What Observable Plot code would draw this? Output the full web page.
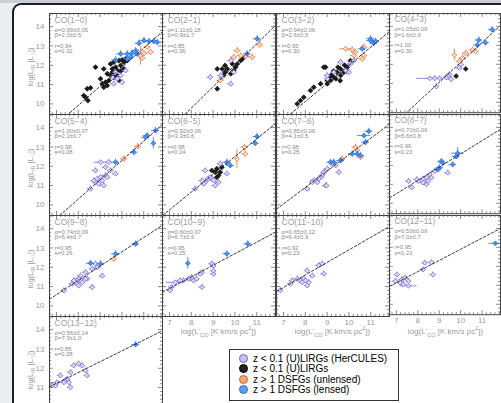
<!DOCTYPE html>
<html><head><meta charset="utf-8">
<script src="https://cdn.jsdelivr.net/npm/d3@7"></script>
<script src="https://cdn.jsdelivr.net/npm/@observablehq/plot@0.6"></script>
<style>
html,body{margin:0;padding:0;width:501px;height:403px;overflow:hidden;background:#e9eef3;font-family:"Liberation Sans",Arial,sans-serif}
#topbar{position:absolute;left:0;top:0;width:501px;height:3px;background:#c7ced6}
#win{position:absolute;left:12px;top:3px;width:540px;height:460px;background:#fff;border-left:2px solid #1e1e1e;border-top:2px solid #1e1e1e;border-radius:9px 0 0 0}
.pl{position:absolute}
.ytitle{position:absolute;font-size:7.5px;color:#9a9a9a;white-space:nowrap;transform:translate(-50%,-50%) rotate(-90deg);}
.xtitle{position:absolute;font-size:8px;color:#9a9a9a;white-space:nowrap;transform:translateX(-50%);}
sub,sup{font-size:70%;line-height:0}
#legend{position:absolute;left:229px;top:349px;width:168px;height:50px;border:1px solid #333;background:#fff;font-size:10px;color:#000}
#legend .row{position:absolute;left:9px;height:10px;line-height:10px;white-space:nowrap}
#legend .mk{display:inline-block;width:7px;height:7px;border-radius:50%;border:1px solid;vertical-align:-1px;margin-right:5px}
</style></head>
<body>
<div id="topbar"></div>
<div id="win"></div>
<div id="stage"></div>
<script>
// ---- data ----
const transitions = ["CO(1−0)","CO(2−1)","CO(3−2)","CO(4−3)","CO(5−4)","CO(6−5)","CO(7−6)","CO(8−7)","CO(9−8)","CO(10−9)","CO(11−10)","CO(12−11)","CO(13−12)"];
const alpha    = [0.99,1.11,0.94,1.05,1.00,0.92,0.85,0.70,0.74,0.60,0.65,0.59,0.56];
const alphaErr = ["0.05","0.18","0.06","0.09","0.07","0.06","0.06","0.09","0.09","0.07","0.12","0.09","0.14"];
const beta     = [2.0,0.9,2.6,1.6,2.3,3.3,4.1,5.6,5.4,6.7,6.4,7.0,7.3];
const betaErr  = ["0.5","1.7","0.5","0.9","0.7","0.6","0.5","0.8","0.7","0.6","0.9","0.7","1.0"];
const rCoef    = ["0.94","0.85","0.95","1.00","0.98","0.98","0.98","0.96","0.95","0.95","0.92","0.95","0.85"];
const sScatter = ["0.32","0.36","0.30","0.30","0.28","0.24","0.25","0.23","0.26","0.25","0.23","0.23","0.28"];
const xTickLabels = [7,8,9,10,11];
const yTickLabels = [10,11,12,13,14];
const legendLabels = ["z < 0.1 (U)LIRGs (HerCULES)","z < 0.1 (U)LIRGs","z > 1 DSFGs (unlensed)","z > 1 DSFGs (lensed)"];
// points: [logL'CO, logLIR, group, xErr?, yErr?]  H=HerCULES U=(U)LIRGs N=unlensed L=lensed
const co10 = [[8.79,11.90,"U"],[9.17,11.81,"U"],[9.48,12.07,"U"],[9.63,12.16,"U"],[9.86,12.24,"U"],[10.01,12.28,"U"],[10.09,12.16,"U"],[10.17,12.33,"U"],[9.94,11.99,"U"],[9.71,11.90,"U"],[9.56,11.81,"U"],[9.79,11.73,"U"],[9.94,11.69,"U"],[10.09,11.81,"U"],[9.33,11.56,"U"],[9.48,11.47,"U"],[9.63,11.38,"U"],[9.40,11.21,"U"],[9.25,11.12,"U"],[9.10,11.04,"U"],[9.17,10.86,"U"],[9.33,10.95,"U"],[9.02,11.30,"U"],[9.56,11.64,"U"],[9.79,11.47,"U"],[9.86,11.21,"U"],[8.41,10.78,"U"],[8.56,10.83,"U"],[8.25,10.43,"U"],[8.33,10.34,"U"],[8.44,10.17,"U"],[10.24,12.24,"U"],
 [9.56,11.38,"H"],[9.79,11.30,"H"],[9.63,11.04,"H"],[10.01,11.12,"H"],[9.71,11.64,"H"],[9.94,11.47,"H"],[10.17,11.73,"H"],
 [10.78,13.14,"L"],[11.01,13.28,"L"],[11.24,13.24,"L"],[11.46,13.24,"L"],[11.62,13.19,"L"],[9.94,12.59,"L"],[10.24,12.59,"L"],[10.47,12.62,"L"],[10.63,12.76,"L"],[10.70,12.59,"L"],[10.40,12.42,"L"],[9.71,12.28,"L"],[10.24,12.33,"L"],
 [10.85,12.50,"N",0.1,0.5],[11.01,12.62,"N"],[11.31,12.68,"N"],[11.16,12.94,"N"],[10.93,12.37,"N"]];
const co21 = [[11.02,13.37,"L"],[10.56,12.59,"L"],
 [11.14,13.06,"N"],[10.11,12.76,"N"],[10.26,12.50,"N"],[10.49,12.45,"N"],[10.79,12.42,"N"],[9.95,12.42,"N"],[9.33,11.21,"N"],
 [10.26,12.24,"U"],[10.11,12.07,"U"],[9.88,12.07,"U"],[10.03,11.90,"U"],[9.65,11.81,"U"],[9.42,11.81,"U"],[9.19,11.81,"U"],[9.55,11.64,"U"],[9.81,11.56,"U"],[9.95,11.73,"U"],[9.48,11.47,"U"],[9.19,10.78,"U"],[10.34,12.33,"U"],[9.55,11.99,"U"],
 [9.81,12.24,"H"],[8.87,11.38,"H"],[9.81,11.04,"H"],[9.95,11.64,"H"],[9.42,11.38,"H"],[9.35,11.47,"H"]];
const co32 = [[10.99,13.28,"L"],[11.13,13.14,"L"],[10.99,13.37,"L"],[11.22,13.24,"L"],[10.61,12.85,"L"],
 [9.85,12.85,"N",0.3,0.1],[10.15,12.80,"N"],[10.30,12.68,"N"],[10.69,12.94,"N"],[10.69,12.50,"N"],[10.61,12.33,"N"],[10.23,12.50,"N"],
 [10.07,12.24,"U"],[8.93,11.90,"U"],[9.46,11.64,"U"],[9.62,11.81,"U"],[9.92,11.90,"U"],[9.31,11.38,"U"],[9.16,11.21,"U"],[9.01,11.04,"U"],[9.62,11.47,"U"],[9.77,11.64,"U"],[8.39,10.86,"U"],[8.24,10.69,"U"],[7.93,10.34,"U"],[7.78,10.17,"U"],[7.63,10.00,"U"],[8.85,11.90,"U"],[8.70,11.04,"U"],[9.01,11.21,"U"],[9.20,11.50,"U"],[9.40,11.30,"U"],[9.50,11.90,"U"],[9.80,12.00,"U"],[9.90,11.70,"U"],[9.30,11.70,"U"],[9.60,11.20,"U"],[9.10,11.40,"U"],
 [9.62,12.16,"H"],[10.23,12.24,"H"],[9.85,11.73,"H"],[10.00,11.64,"H"],[9.31,11.64,"H"],[9.01,11.30,"H"],[10.07,12.07,"H"],[9.01,11.47,"H"]];
const co43 = [[11.47,13.83,"L"],[10.85,13.28,"L"],[11.16,13.14,"L"],[10.78,13.02,"L"],
 [10.24,12.59,"N"],[10.55,12.76,"N"],[10.70,12.68,"N"],[10.09,12.33,"N"],[9.71,12.50,"N",0.05,0.3],[9.94,12.16,"N"],
 [10.24,11.76,"U"],[9.79,11.38,"U"],
 [9.94,11.81,"H"],[10.02,11.99,"H"],[9.48,11.47,"H"],[9.40,11.38,"H"],[9.33,11.30,"H"],[9.02,11.26,"H"],[8.79,11.26,"H"],[8.56,11.26,"H",0.6,0.05],[8.87,10.83,"H"],[9.56,11.21,"H"]];
const co54 = [[11.54,13.85,"L"],[11.16,13.59,"L"],[11.08,13.50,"L"],[11.44,13.19,"L",0.05,0.3],[10.55,12.73,"L"],[9.71,12.21,"L"],
 [10.73,13.02,"N"],[10.09,12.38,"N"],
 [9.02,12.21,"H",0.3,0.05],[9.40,12.21,"H"],[8.79,11.78,"H"],[9.25,11.95,"H"],[9.71,11.61,"H"],[9.48,11.78,"H"],[9.25,11.52,"H"],[9.02,11.43,"H"],[8.87,11.35,"H"],[8.79,11.17,"H"],[9.10,11.26,"H"],[9.17,11.00,"H"],[8.94,11.09,"H"],[8.56,10.83,"H"],[8.71,11.26,"H"],[9.33,11.43,"H"]];
const co65 = [[11.01,13.54,"L"],[10.93,13.19,"L"],[9.63,12.21,"L"],[9.79,12.04,"L"],
 [10.44,12.99,"N"],[10.47,12.64,"N"],[10.09,12.38,"N",0.05,0.5],
 [8.94,11.78,"U"],[9.10,11.69,"U"],[9.17,11.87,"U"],[9.25,11.52,"U"],[9.33,11.69,"U"],[9.40,11.95,"U"],[9.17,11.43,"U"],
 [9.33,12.13,"H"],[8.64,11.78,"H"],[9.63,11.61,"H"],[8.78,11.35,"H"],[8.64,11.17,"H"],[8.49,11.26,"H"],[8.94,11.35,"H"],[8.57,11.09,"H"],[9.02,11.26,"H"],[9.10,11.00,"H"],[8.18,10.83,"H"],[8.87,11.43,"H"],[9.25,11.17,"H"]];
const co76 = [[10.91,13.81,"L"],[10.69,13.59,"L",0.3,0.1],[10.76,13.24,"L"],[10.38,12.64,"L"],[10.53,12.56,"L"],[9.31,12.21,"L"],[9.16,12.21,"L"],[9.62,12.30,"L"],[10.15,12.64,"L"],
 [10.30,12.99,"N"],[10.38,12.82,"N"],[10.53,12.47,"N"],[9.69,12.38,"N"],
 [9.54,11.69,"H"],[9.24,12.13,"H"],[8.93,11.00,"H"],[8.78,11.52,"H"],[9.01,11.87,"H"],[9.39,12.04,"H"],[8.09,10.83,"H"],[8.39,11.26,"H"],[8.55,11.17,"H"],[8.70,11.43,"H"],[8.85,11.69,"H"],[8.32,11.17,"H"],[8.62,11.35,"H"],[8.97,11.00,"H"]];
const co87 = [[9.86,12.64,"L",0.3,0.3],[9.79,12.47,"L"],[9.63,12.04,"L"],[9.10,12.21,"L"],[9.17,12.13,"L"],[9.02,11.87,"L"],[8.94,11.78,"L"],
 [9.40,11.61,"H"],[8.56,11.52,"H"],[8.41,11.35,"H"],[8.25,11.29,"H"],[7.57,11.17,"H"],[8.02,11.17,"H"],[7.72,10.83,"H"],[7.95,11.26,"H"],[8.41,11.00,"H"],[8.64,11.35,"H"],[8.79,11.69,"H"],[8.48,11.17,"H"],[8.25,11.09,"H"]];
const co98 = [[10.63,13.21,"L"],[9.71,12.70,"L"],[9.02,12.18,"L"],[8.56,12.21,"L",0.2,0.15],
 [9.63,12.44,"N"],
 [8.79,12.18,"H"],[8.87,12.00,"H"],[8.33,11.74,"H"],[8.10,11.56,"H"],[8.02,11.40,"H"],[7.95,11.31,"H"],[7.87,11.22,"H"],[7.72,11.14,"H"],[8.18,11.22,"H"],[8.41,11.40,"H"],[8.33,11.40,"H"],[8.02,11.05,"H"],[8.64,10.97,"H"],[9.10,11.56,"H"],[7.34,10.80,"H"],[7.80,11.31,"H"],[8.64,11.91,"H"]];
const co109 = [[10.59,13.21,"L"],[9.63,12.70,"L"],[7.84,12.21,"L",0.05,0.3],
 [8.94,12.18,"H"],[9.02,12.08,"H"],[9.02,11.66,"H"],[8.49,11.74,"H"],[8.41,11.66,"H"],[8.02,11.48,"H"],[7.87,11.40,"H"],[8.10,11.31,"H"],[7.64,11.31,"H"],[7.49,11.31,"H"],[7.26,11.22,"H",0.4,0.05],[7.10,10.97,"H"],[7.03,10.80,"H"],[8.49,10.97,"H"],[9.02,11.82,"H"],[8.25,11.40,"H"]];
const co1110 = [[8.78,12.18,"H"],[8.62,12.10,"H"],[8.85,11.66,"H"],[8.09,11.83,"H"],[7.93,11.40,"H"],[7.78,11.31,"H"],[7.86,11.22,"H"],[7.63,11.40,"H"],[7.40,11.31,"H"],[7.32,11.14,"H"],[8.09,11.05,"H"],[8.16,11.22,"H"],[8.01,11.31,"H"],[8.32,11.56,"H"],[6.86,10.80,"H"]];
const co1211 = [[8.33,12.18,"H"],[8.64,12.21,"H"],[8.25,11.83,"H"],[8.71,11.56,"H"],[7.03,11.56,"H"],[7.26,11.31,"H"],[7.41,11.40,"H"],[7.57,11.22,"H"],[7.18,11.14,"H"],[7.57,10.97,"H",0.4,0.05],[6.96,11.22,"H"],[7.33,11.05,"H"],
 [11.62,13.21,"L",0.3,0.1]];
const co1312 = [[10.63,13.23,"L"],
 [8.02,12.23,"H"],[7.79,12.14,"H"],[8.18,12.14,"H"],[7.64,11.79,"H"],[7.18,11.62,"H"],[8.33,11.88,"H"],[8.41,11.62,"H"],[7.41,11.36,"H"],[7.57,11.27,"H"],[7.49,11.45,"H"],[7.34,11.27,"H"],[7.03,11.27,"H",0.4,0.05],[6.80,11.10,"H"],[6.95,11.10,"H"],[7.64,11.01,"H"]];
const pointSets = [co10,co21,co32,co43,co54,co65,co76,co87,co98,co109,co1110,co1211,co1312];

// ---- layout / style ----
const xDomain = [6.68, 11.86], yDomain = [9.45, 14.68];
const PW = 113, PH = 101;
const colLeft = [49,162,276,389], rowTop = [13,114,215,316];
const groupOrder = ["U","H","N","L"];
const gs = {
  H:{fill:"#ddd7f9",stroke:"#7466d3",ex:0.14,ey:0.14},
  U:{fill:"#1a1a1a",stroke:"#1a1a1a",ex:0.08,ey:0.08},
  N:{fill:"#fcdcc8",stroke:"#e2733c",ex:0.16,ey:0.16},
  L:{fill:"#4d8ff0",stroke:"#2f72dc",ex:0.18,ey:0.16}
};
const kx = (xDomain[1]-xDomain[0])/PW, ky = (yDomain[1]-yDomain[0])/PH;
const xt = d3.range(34,60).map(i=>({v:i/5,len:i%5===0?4:2}));
const yt = d3.range(48,74).map(i=>({v:i/5,len:i%5===0?4:2}));
const stage = document.getElementById("stage");

transitions.forEach((name,i)=>{
  const col = i%4, row = Math.floor(i/4);
  const showY = col===0;
  const showX = row===2 && col>0;
  const ml = showY ? 49 : 1, mr = 1, mt = 1, mb = showX ? 28 : 1;
  const data = pointSets[i].map(d=>({x:d[0],y:d[1],g:d[2],ex:d[3]??gs[d[2]].ex,ey:d[4]??gs[d[2]].ey}));
  const marks = [];
  for (const g of groupOrder) {
    const sub = data.filter(d=>d.g===g);
    if (!sub.length) continue;
    const st = gs[g];
    marks.push(Plot.ruleY(sub,{y:"y",x1:d=>d.x-d.ex,x2:d=>d.x+d.ex,stroke:st.stroke,strokeWidth:0.8,clip:true}));
    marks.push(Plot.ruleX(sub,{x:"x",y1:d=>d.y-d.ey,y2:d=>d.y+d.ey,stroke:st.stroke,strokeWidth:0.8,clip:true}));
    marks.push(Plot.dot(sub,{x:"x",y:"y",symbol:"diamond2",r:2.2,fill:st.fill,stroke:st.stroke,strokeWidth:0.8,clip:true}));
  }
  marks.push(Plot.line(xDomain.map(x=>({x,y:alpha[i]*x+beta[i]})),{x:"x",y:"y",stroke:"#222",strokeWidth:0.9,strokeDasharray:"2.5,2",clip:true}));
  marks.push(Plot.ruleX(xt,{x:"v",y1:yDomain[0],y2:d=>yDomain[0]+d.len*ky,stroke:"#555",strokeWidth:0.7}));
  marks.push(Plot.ruleX(xt,{x:"v",y1:yDomain[1],y2:d=>yDomain[1]-d.len*ky,stroke:"#555",strokeWidth:0.7}));
  marks.push(Plot.ruleY(yt,{y:"v",x1:xDomain[0],x2:d=>xDomain[0]+d.len*kx,stroke:"#555",strokeWidth:0.7}));
  marks.push(Plot.ruleY(yt,{y:"v",x1:xDomain[1],x2:d=>xDomain[1]-d.len*kx,stroke:"#555",strokeWidth:0.7}));
  marks.push(Plot.frame({stroke:"#444",strokeWidth:1}));
  marks.push(Plot.text([name],{text:d=>d,frameAnchor:"top-left",dx:5,dy:3,lineAnchor:"top",textAnchor:"start",fill:"#a0a0a0",fontSize:8.5}));
  const statLines = [
    [`α=${alpha[i].toFixed(2)}±${alphaErr[i]}`,14],
    [`β=${beta[i].toFixed(1)}±${betaErr[i]}`,19.5],
    [`r=${rCoef[i]}`,30],
    [`s=${sScatter[i]}`,35.5]
  ];
  for (const [txt,dy] of statLines)
    marks.push(Plot.text([txt],{text:d=>d,frameAnchor:"top-left",dx:5,dy,lineAnchor:"top",textAnchor:"start",fill:"#8a8a8a",fontSize:6}));
  if (showY) marks.push(Plot.axisY(row===3 ? yTickLabels.slice(1) : yTickLabels,{tickSize:0,tickPadding:5,fontSize:8,fill:"#9a9a9a",label:null}));
  if (showX) marks.push(Plot.axisX(xTickLabels,{tickSize:0,tickPadding:3,fontSize:8,fill:"#9a9a9a",label:null}));
  const svg = Plot.plot({
    width: ml+PW+mr, height: mt+PH+mb,
    marginLeft: ml, marginRight: mr, marginTop: mt, marginBottom: mb,
    x:{domain:xDomain, axis:null}, y:{domain:yDomain, axis:null},
    style:{fontFamily:"Liberation Sans, Arial, sans-serif",fontSize:"8px",background:"transparent",overflow:"visible"},
    marks
  });
  const div = document.createElement("div");
  div.className = "pl";
  div.style.left = (colLeft[col]-ml)+"px";
  div.style.top = (rowTop[row]-mt)+"px";
  div.appendChild(svg);
  stage.appendChild(div);
  if (showY) {
    const t = document.createElement("div");
    t.className = "ytitle";
    t.style.left = "30px"; t.style.top = (rowTop[row]+PH/2+3)+"px";
    t.innerHTML = "log(L<sub>IR</sub> [L<sub>☉</sub>])";
    stage.appendChild(t);
  }
  if (showX) {
    const t = document.createElement("div");
    t.className = "xtitle";
    t.style.left = (colLeft[col]+PW/2)+"px"; t.style.top = (rowTop[row]+PH+11)+"px";
    t.innerHTML = "log(L'<sub>CO</sub> [K km/s pc<sup>2</sup>])";
    stage.appendChild(t);
  }
});

// legend
const legCols = [["#c9c1f2","#6f62c8"],["#222","#000"],["#f5a57a","#d2602a"],["#5e9ef2","#2d6bd0"]];
const leg = document.createElement("div");
leg.id = "legend";
legendLabels.forEach((lab,j)=>{
  const r = document.createElement("div");
  r.className = "row";
  r.style.top = (4+j*10.4)+"px";
  r.innerHTML = `<span class="mk" style="background:${legCols[j][0]};border-color:${legCols[j][1]}"></span>${lab}`;
  leg.appendChild(r);
});
stage.appendChild(leg);
</script>
</body></html>
